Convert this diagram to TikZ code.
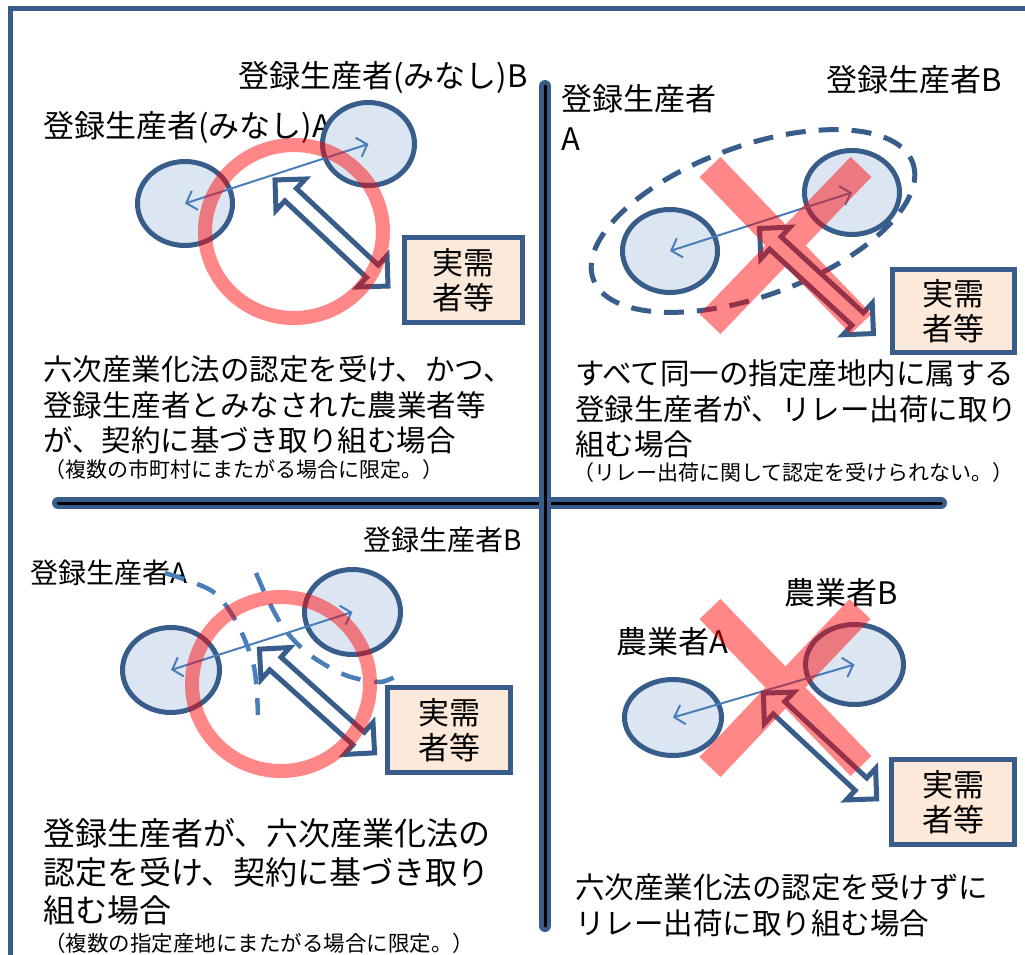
\documentclass[tikz,border=0pt]{standalone}
\usepackage{fontspec}
\setmainfont{Noto Sans CJK JP}
\usetikzlibrary{shapes.geometric,shapes.arrows,arrows.meta}

\begin{document}
\begin{tikzpicture}[x=1pt,y=-1pt,
    farm/.style={ellipse,draw=dkblue,line width=5pt,fill=lightfill,inner sep=0pt},
    buyer/.style={draw=dkblue,line width=5pt,fill=peach,align=center,inner sep=0pt,
      font=\fontsize{31}{35}\selectfont},
    link/.style={draw=medblue,line width=2pt,
      {Straight Barb[length=9pt,width=20pt]}-{Straight Barb[length=9pt,width=20pt]}},
    supply/.style={double arrow,draw=dkblue,fill=white,line width=5pt,inner sep=6pt,
      double arrow head extend=13pt,double arrow tip angle=90,minimum height=155pt},
    ng/.style={red,opacity=0.47},
    divider/.style={draw=dkblue,double=black,double distance=3pt,line width=4.5pt,line cap=round},
    tag/.style={anchor=west,inner sep=0pt,align=left,font=\fontsize{31}{40}\selectfont},
    casetext/.style={anchor=west,inner sep=0pt,align=left,font=\fontsize{29.5}{35.5}\selectfont},
    note/.style={anchor=west,inner sep=0pt,font=\fontsize{21}{25}\selectfont}]
    % Define colors
    \definecolor{dkblue}{RGB}{56,93,138}
    \definecolor{medblue}{RGB}{74,126,187}
    \definecolor{lightfill}{RGB}{220,230,242}
    \definecolor{peach}{RGB}{253,233,217}

    \clip (0,0) rectangle (1025,955);

    % Draw the frame and the dividers
    \draw[dkblue,line width=5pt] (10,8.5) rectangle (1100,1000);
    \draw[divider] (58,503) -- (941,503);
    \draw[divider] (545,86) -- (545,926);

    % Top left: registered producers (deemed)
    \node[tag] (q1labb) at (238,78) {登録生産者(みなし)B};
    \node[tag] (q1laba) at (43,128) {登録生産者(みなし)A};
    \node[farm,minimum width=95pt,minimum height=84pt] (q1a) at (185,203.5) {};
    \node[farm,minimum width=92pt,minimum height=83pt] (q1b) at (368.5,144) {};
    \draw[link] (q1a.center) -- (q1b.center);
    \node[buyer,minimum width=118pt,minimum height=85pt] (q1buyer) at (463.5,280) {実需\\者等};
    \node[supply,rotate=-43.2] (q1deal) at (331.5,233) {};
    \draw[ng,line width=14pt] (294,231.5) ellipse [x radius=89, y radius=86.5];
    \node[casetext] (q1text) at (43,405) {六次産業化法の認定を受け、かつ、\\登録生産者とみなされた農業者等\\が、契約に基づき取り組む場合};
    \node[note] (q1note) at (44,470) {（複数の市町村にまたがる場合に限定。）};

    % Top right: same designated area
    \node[tag] (q2laba) at (561,117) {登録生産者\\A};
    \node[tag] (q2labb) at (826,80) {登録生産者B};
    \draw[dkblue,line width=5pt,dash pattern=on 20pt off 13pt,rotate around={20:(753,221)}]
      (753,221) ellipse [x radius=170, y radius=75];
    \node[farm,minimum width=95pt,minimum height=83pt] (q2a) at (670,251) {};
    \node[farm,minimum width=95pt,minimum height=84pt] (q2b) at (852,192.5) {};
    \draw[link] (q2a.center) -- (q2b.center);
    \node[buyer,minimum width=122pt,minimum height=83pt] (q2buyer) at (953.5,311) {実需\\者等};
    \node[supply,rotate=-42.7] (q2deal) at (816.5,281) {};
    \draw[ng,line width=29pt] (710,167) -- (861,324) (861,167) -- (710,324);
    \node[casetext] (q2text) at (575,409) {すべて同一の指定産地内に属する\\登録生産者が、リレー出荷に取り\\組む場合};
    \node[note] (q2note) at (573,473) {（リレー出荷に関して認定を受けられない。）};

    % Bottom left: registered producers across areas
    \node[tag,font=\fontsize{28}{34}\selectfont] (q3labb) at (363,540) {登録生産者B};
    \node[tag,font=\fontsize{28}{34}\selectfont] (q3laba) at (30,573) {登録生産者A};
    \draw[medblue,line width=4.5pt,dash pattern=on 20pt off 14pt]
      plot[smooth] coordinates {(165,573) (212,591) (237,623) (254,667) (258,715)};
    \draw[medblue,line width=4.5pt,dash pattern=on 20pt off 14pt]
      plot[smooth] coordinates {(256,573) (268,600) (285,630) (310,655) (345,675) (380,682) (402,673)};
    \node[farm,minimum width=97pt,minimum height=85pt] (q3a) at (171,670) {};
    \node[farm,minimum width=96pt,minimum height=85pt] (q3b) at (352.5,612) {};
    \draw[link] (q3a.center) -- (q3b.center);
    \node[buyer,minimum width=123pt,minimum height=85pt] (q3buyer) at (449,730) {実需\\者等};
    \node[supply,rotate=-42] (q3deal) at (317,701) {};
    \draw[ng,line width=14pt] (281,684) ellipse [x radius=89, y radius=87];
    \node[casetext,font=\fontsize{32}{38.5}\selectfont] (q3text) at (43,872)
      {登録生産者が、六次産業化法の\\認定を受け、契約に基づき取り\\組む場合};
    \node[note,font=\fontsize{21.5}{25}\selectfont] (q3note) at (44,943) {（複数の指定産地にまたがる場合に限定。）};

    % Bottom right: farmers without certification
    \node[tag] (q4labb) at (784,593) {農業者B};
    \node[tag] (q4laba) at (616,642) {農業者A};
    \node[farm,minimum width=97pt,minimum height=76pt] (q4a) at (673,717.5) {};
    \node[farm,minimum width=98pt,minimum height=80pt] (q4b) at (854.5,664.5) {};
    \draw[link] (q4a.center) -- (q4b.center);
    \node[buyer,minimum width=123pt,minimum height=85pt] (q4buyer) at (953,802) {実需\\者等};
    \node[supply,rotate=-43] (q4deal) at (820,746) {};
    \draw[ng,line width=29pt] (710,609) -- (861,766) (860,609) -- (710,767);
    \node[casetext] (q4text) at (575,905.5) {六次産業化法の認定を受けずに\\リレー出荷に取り組む場合};
\end{tikzpicture}
\end{document}
